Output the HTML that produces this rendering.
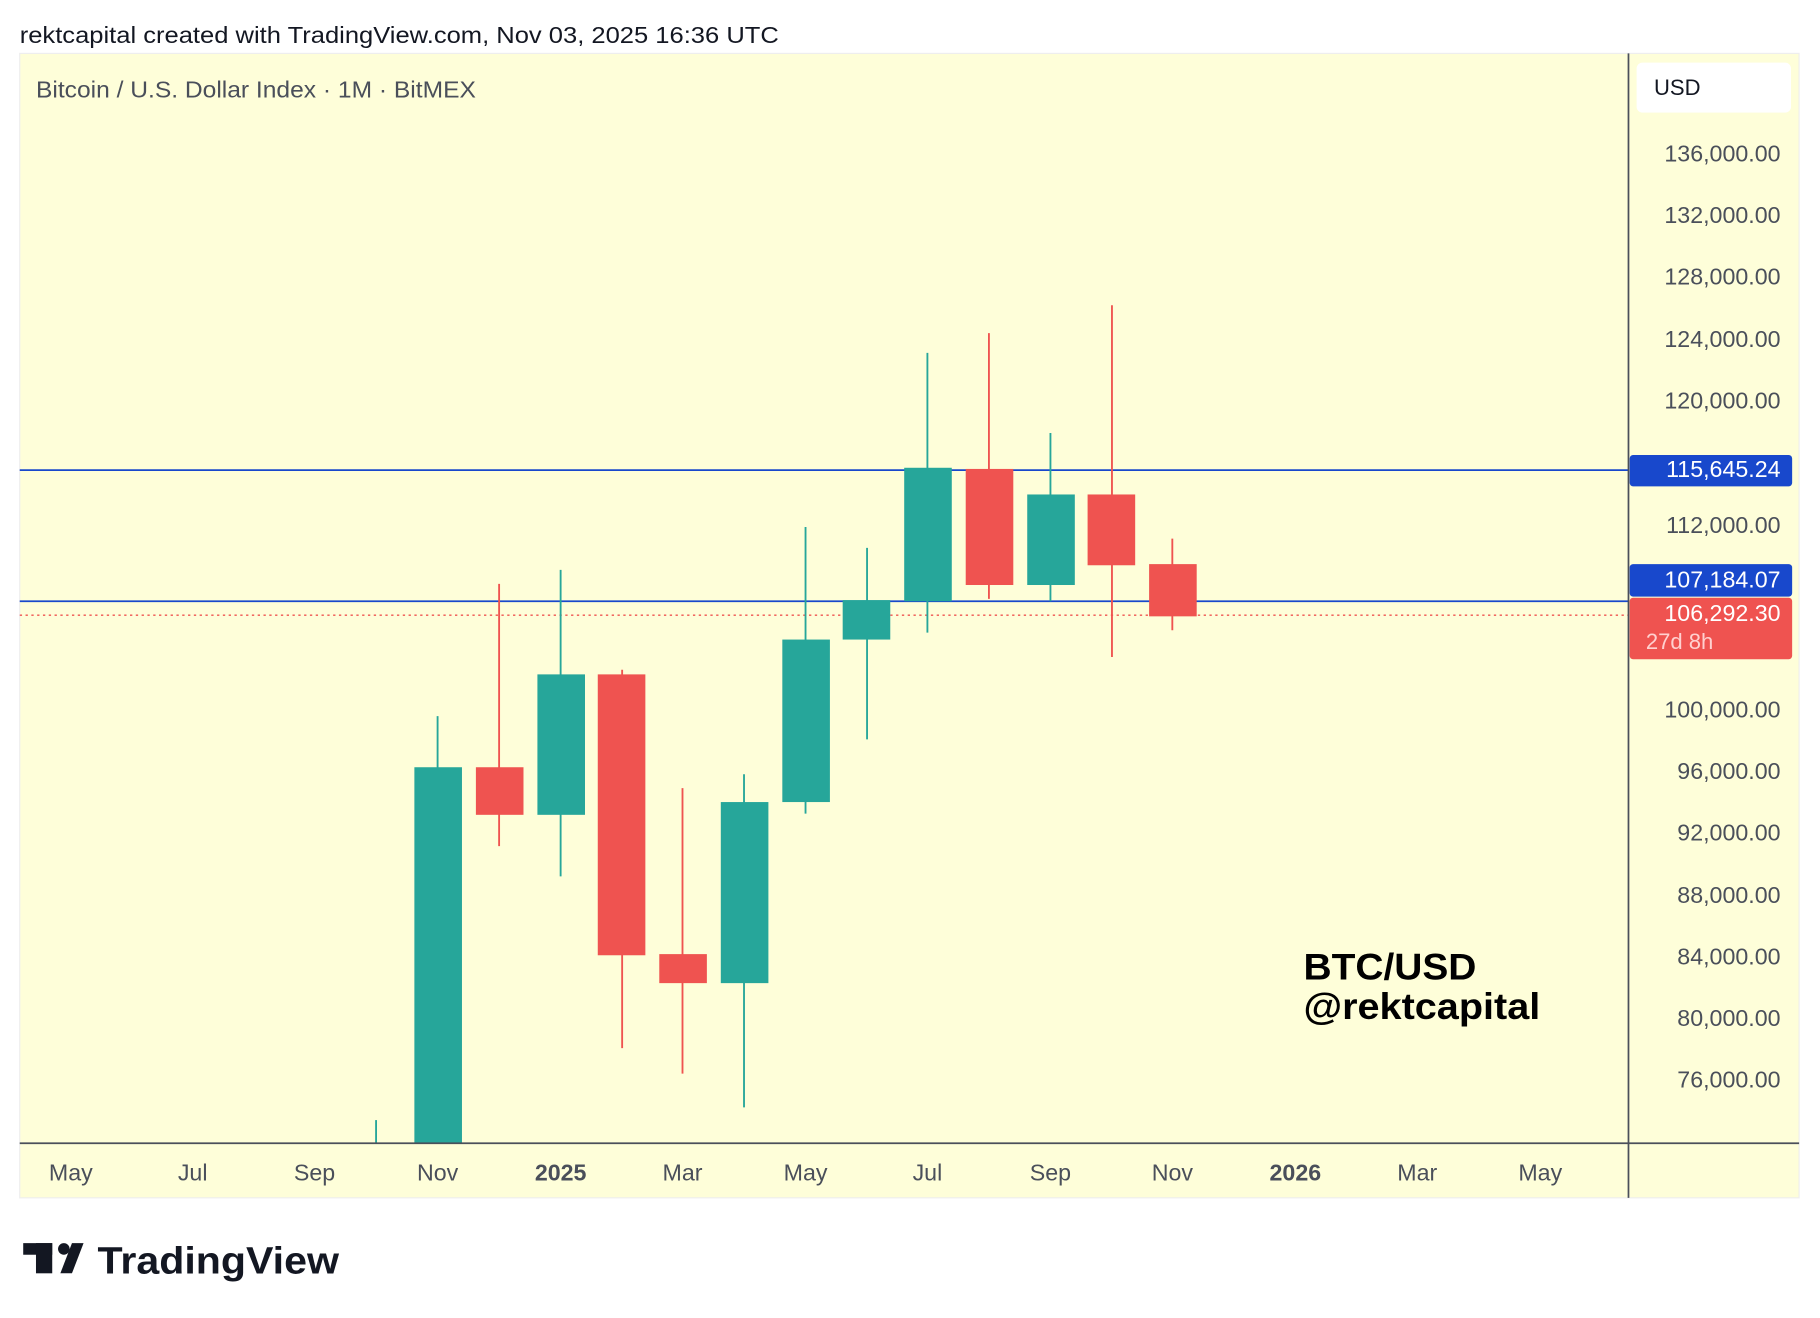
<!DOCTYPE html>
<html><head><meta charset="utf-8"><style>body{margin:0;background:#fff}svg{display:block}text{font-family:"Liberation Sans",sans-serif}</style></head><body>
<svg width="1820" height="1318" viewBox="0 0 1568 1135.5" xmlns="http://www.w3.org/2000/svg">
<rect width="1568" height="1136" fill="#fff"/>
<text x="17" y="37" font-size="20" fill="#131722" textLength="654" lengthAdjust="spacingAndGlyphs">rektcapital created with TradingView.com, Nov 03, 2025 16:36 UTC</text>
<rect x="17" y="46" width="1533" height="986" fill="#fefed9" stroke="#eee" stroke-width="1"/>
<text x="31" y="84" font-size="20" fill="#4a4f5a" textLength="379" lengthAdjust="spacingAndGlyphs">Bitcoin / U.S. Dollar Index · 1M · BitMEX</text>
<rect x="1410" y="54" width="133" height="43" rx="5" fill="#fff"/>
<text x="1425" y="82" font-size="19" fill="#131722">USD</text>
<g font-size="20" fill="#4a4f5a" text-anchor="end">
<text x="1534" y="139">136,000.00</text><text x="1534" y="192">132,000.00</text><text x="1534" y="245">128,000.00</text><text x="1534" y="299">124,000.00</text><text x="1534" y="352">120,000.00</text><text x="1534" y="459">112,000.00</text><text x="1534" y="618">100,000.00</text><text x="1534" y="671">96,000.00</text><text x="1534" y="724">92,000.00</text><text x="1534" y="778">88,000.00</text><text x="1534" y="831">84,000.00</text><text x="1534" y="884">80,000.00</text><text x="1534" y="937">76,000.00</text>
</g>
<line x1="17" y1="405" x2="1403" y2="405" stroke="#1848cc" stroke-width="1.5"/>
<line x1="17" y1="518" x2="1403" y2="518" stroke="#1848cc" stroke-width="1.5"/>
<line x1="17" y1="530" x2="1403" y2="530" stroke="#ef5350" stroke-width="1.2" stroke-dasharray="2,3"/>
<g stroke-width="1.6">
<line x1="324" y1="965" x2="324" y2="985" stroke="#26a69a"/>
<line x1="377" y1="617" x2="377" y2="985" stroke="#26a69a"/><rect x="357" y="661" width="41" height="324" fill="#26a69a" stroke="none"/>
<line x1="430" y1="503" x2="430" y2="729" stroke="#ef5350"/><rect x="410" y="661" width="41" height="41" fill="#ef5350" stroke="none"/>
<line x1="483" y1="491" x2="483" y2="755" stroke="#26a69a"/><rect x="463" y="581" width="41" height="121" fill="#26a69a" stroke="none"/>
<line x1="536" y1="577" x2="536" y2="903" stroke="#ef5350"/><rect x="515" y="581" width="41" height="242" fill="#ef5350" stroke="none"/>
<line x1="588" y1="679" x2="588" y2="925" stroke="#ef5350"/><rect x="568" y="822" width="41" height="25" fill="#ef5350" stroke="none"/>
<line x1="641" y1="667" x2="641" y2="954" stroke="#26a69a"/><rect x="621" y="691" width="41" height="156" fill="#26a69a" stroke="none"/>
<line x1="694" y1="454" x2="694" y2="701" stroke="#26a69a"/><rect x="674" y="551" width="41" height="140" fill="#26a69a" stroke="none"/>
<line x1="747" y1="472" x2="747" y2="637" stroke="#26a69a"/><rect x="726" y="517" width="41" height="34" fill="#26a69a" stroke="none"/>
<line x1="799" y1="304" x2="799" y2="545" stroke="#26a69a"/><rect x="779" y="403" width="41" height="115" fill="#26a69a" stroke="none"/>
<line x1="852" y1="287" x2="852" y2="516" stroke="#ef5350"/><rect x="832" y="404" width="41" height="100" fill="#ef5350" stroke="none"/>
<line x1="905" y1="373" x2="905" y2="518" stroke="#26a69a"/><rect x="885" y="426" width="41" height="78" fill="#26a69a" stroke="none"/>
<line x1="958" y1="263" x2="958" y2="566" stroke="#ef5350"/><rect x="937" y="426" width="41" height="61" fill="#ef5350" stroke="none"/>
<line x1="1010" y1="464" x2="1010" y2="543" stroke="#ef5350"/><rect x="990" y="486" width="41" height="45" fill="#ef5350" stroke="none"/>
</g>
<text x="1123" y="844" font-size="32" font-weight="bold" fill="#000" textLength="149" lengthAdjust="spacingAndGlyphs">BTC/USD</text>
<text x="1123" y="878" font-size="32" font-weight="bold" fill="#000" textLength="204" lengthAdjust="spacingAndGlyphs">@rektcapital</text>
<line x1="1403" y1="46" x2="1403" y2="1032" stroke="#4a4f5a" stroke-width="1.5"/>
<line x1="17" y1="985" x2="1550" y2="985" stroke="#4a4f5a" stroke-width="1.5"/>
<rect x="1404" y="392" width="140" height="27" rx="3" fill="#1848cc"/>
<text x="1534" y="411" font-size="20" fill="#fff" text-anchor="end">115,645.24</text>
<rect x="1404" y="486" width="140" height="28" rx="3" fill="#1848cc"/>
<text x="1534" y="506" font-size="20" fill="#fff" text-anchor="end">107,184.07</text>
<rect x="1404" y="515" width="140" height="53" rx="3" fill="#ef5350"/>
<text x="1534" y="535" font-size="20" fill="#fff" text-anchor="end">106,292.30</text>
<text x="1418" y="559" font-size="19" fill="#ffd0cf">27d 8h</text>
<g font-size="20" fill="#4a4f5a" text-anchor="middle">
<text x="61" y="1017">May</text><text x="166" y="1017">Jul</text><text x="271" y="1017">Sep</text><text x="377" y="1017">Nov</text><text x="483" y="1017" font-weight="bold">2025</text><text x="588" y="1017">Mar</text><text x="694" y="1017">May</text><text x="799" y="1017">Jul</text><text x="905" y="1017">Sep</text><text x="1010" y="1017">Nov</text><text x="1116" y="1017" font-weight="bold">2026</text><text x="1221" y="1017">Mar</text><text x="1327" y="1017">May</text>
</g>
<g fill="#131722">
<rect x="20" y="1071" width="25" height="10"/><rect x="31" y="1071" width="14" height="26"/>
<circle cx="55" cy="1076" r="5"/><polygon points="62,1071 72,1071 62,1097 52,1097"/>
</g>
<text x="84" y="1097" font-size="33" font-weight="bold" fill="#131722" textLength="208" lengthAdjust="spacingAndGlyphs">TradingView</text>
</svg>
</body></html>
